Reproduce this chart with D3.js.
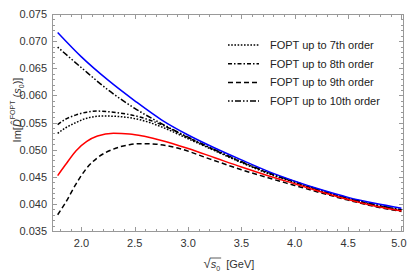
<!DOCTYPE html>
<html>
<head>
<meta charset="utf-8">
<script src="https://cdn.jsdelivr.net/npm/d3@7/dist/d3.min.js"></script>
<style>
  body { margin: 0; background: #fff; }
  text { font-family: 'Liberation Sans', Arial, sans-serif; }
</style>
</head>
<body>
<div id="chart"></div>
<script>
// curve values (sqrt(s0) in GeV -> Im[D])
let xBlue = [1.777, 2.0, 2.25, 2.5, 2.75, 3.0, 3.25, 3.5, 3.75, 4.0, 4.25, 4.5, 4.75, 5.0];
let yBlue = [0.0716, 0.0671, 0.0628, 0.0590, 0.0555, 0.0527, 0.0503, 0.0481, 0.0460, 0.0442, 0.0426, 0.0412, 0.0401, 0.0392];

let xRed = [1.777, 1.85, 1.95, 2.05, 2.15, 2.3, 2.45, 2.6, 2.75, 3.0, 3.25, 3.5, 3.75, 4.0, 4.25, 4.5, 4.75, 5.0];
let yRed = [0.0452, 0.0472, 0.0498, 0.0515, 0.0525, 0.0530, 0.0529, 0.0524, 0.0517, 0.0502, 0.0485, 0.0468, 0.0452, 0.0437, 0.0422, 0.0408, 0.0396, 0.0387];

let x7 = [1.777, 1.85, 1.95, 2.05, 2.2, 2.35, 2.55, 2.75, 3.0, 3.25, 3.5, 3.75, 4.0, 4.25, 4.5, 4.75, 5.0];
let y7 = [0.0530, 0.0540, 0.0550, 0.0558, 0.0562, 0.0561, 0.0555, 0.0542, 0.0520, 0.0498, 0.0476, 0.0456, 0.0439, 0.0423, 0.0409, 0.0397, 0.0388];

let x8 = [1.777, 1.85, 1.95, 2.05, 2.15, 2.3, 2.55, 2.75, 3.0, 3.25, 3.5, 3.75, 4.0, 4.25, 4.5, 4.75, 5.0];
let y8 = [0.0546, 0.0556, 0.0564, 0.0569, 0.0571, 0.0569, 0.0560, 0.0546, 0.0522, 0.0499, 0.0477, 0.0457, 0.0440, 0.0424, 0.0410, 0.0398, 0.0389];

let x9 = [1.777, 1.85, 1.95, 2.05, 2.15, 2.3, 2.45, 2.55, 2.7, 2.9, 3.2, 3.5, 3.75, 4.0, 4.25, 4.5, 4.75, 5.0];
let y9 = [0.0380, 0.0402, 0.0437, 0.0466, 0.0485, 0.0501, 0.0509, 0.0511, 0.0510, 0.0503, 0.0483, 0.0463, 0.0448, 0.0434, 0.0420, 0.0407, 0.0395, 0.0386];

let x10 = [1.777, 2.0, 2.25, 2.5, 2.75, 3.0, 3.25, 3.5, 3.75, 4.0, 4.25, 4.5, 4.75, 5.0];
let y10 = [0.0689, 0.0651, 0.0610, 0.0576, 0.0548, 0.0523, 0.0500, 0.0478, 0.0458, 0.0441, 0.0425, 0.0411, 0.0399, 0.0389];

let legendLabels = ['FOPT up to 7th order', 'FOPT up to 8th order', 'FOPT up to 9th order', 'FOPT up to 10th order'];
let xTicks = [2.0, 2.5, 3.0, 3.5, 4.0, 4.5, 5.0];
let yTicks = [0.035, 0.040, 0.045, 0.050, 0.055, 0.060, 0.065, 0.070, 0.075];

let width = 407, height = 277;
let margin = {top: 14, right: 3, bottom: 46, left: 52};
let axisColor = '#999';
let labelColor = '#333';

let svg = d3.select('#chart').append('svg')
  .attr('width', width)
  .attr('height', height);

let xScale = d3.scaleLinear().domain([1.724, 5.024]).range([margin.left, width - margin.right]);
let yScale = d3.scaleLinear().domain([0.035, 0.075]).range([height - margin.bottom, margin.top]);

let x0 = margin.left, x1 = width - margin.right;
let y0 = height - margin.bottom, y1 = margin.top;

// frame with mirrored ticks, Mathematica style
let xMinor = d3.range(18, 51).map(d => d / 10).filter(d => !xTicks.some(t => Math.abs(t - d) < 1e-9));
let yMinor = d3.range(35, 76).map(d => d / 1000).filter(d => !yTicks.some(t => Math.abs(t - d) < 1e-9));

let frame = svg.append('g').attr('stroke', axisColor).attr('stroke-width', 1).attr('fill', 'none');
frame.append('rect')
  .attr('x', x0 + 0.5).attr('y', y1 + 0.5)
  .attr('width', x1 - x0 - 1).attr('height', y0 - y1);

function tickX(vals, len) {
  vals.forEach(v => {
    let px = Math.round(xScale(v)) + 0.5;
    frame.append('line').attr('x1', px).attr('x2', px).attr('y1', y0 + 0.5).attr('y2', y0 + 0.5 - len);
    frame.append('line').attr('x1', px).attr('x2', px).attr('y1', y1 + 0.5).attr('y2', y1 + 0.5 + len);
  });
}
function tickY(vals, len) {
  vals.forEach(v => {
    let py = Math.round(yScale(v)) + 0.5;
    frame.append('line').attr('x1', x0 + 0.5).attr('x2', x0 + 0.5 + len).attr('y1', py).attr('y2', py);
    frame.append('line').attr('x1', x1 - 0.5).attr('x2', x1 - 0.5 - len).attr('y1', py).attr('y2', py);
  });
}
tickX(xTicks, 4.5);
tickX(xMinor, 2.5);
tickY(yTicks, 4.5);
tickY(yMinor, 2.5);

svg.append('g').selectAll('text').data(xTicks).enter().append('text')
  .attr('x', d => d === 5.0 ? width - 0.5 : xScale(d))
  .attr('y', y0 + 16)
  .attr('text-anchor', d => d === 5.0 ? 'end' : 'middle')
  .attr('font-size', 11)
  .attr('fill', labelColor)
  .text(d => d3.format('.1f')(d));

svg.append('g').selectAll('text').data(yTicks).enter().append('text')
  .attr('x', x0 - 5)
  .attr('y', d => yScale(d) + 4)
  .attr('text-anchor', 'end')
  .attr('font-size', 11)
  .attr('fill', labelColor)
  .text(d => d3.format('.3f')(d));

// curves
let line = d3.line()
  .x(d => xScale(d[0]))
  .y(d => yScale(d[1]))
  .curve(d3.curveMonotoneX);

let series = [
  {xs: xBlue, ys: yBlue, color: '#0000ff', dash: null},
  {xs: xRed, ys: yRed, color: '#ff0000', dash: null},
  {xs: x7, ys: y7, color: '#000', dash: '1.6,1.6'},
  {xs: x8, ys: y8, color: '#000', dash: '4,2,1.5,2'},
  {xs: x9, ys: y9, color: '#000', dash: '5,3'},
  {xs: x10, ys: y10, color: '#000', dash: '1.5,2,1.5,2,6,2'}
];

let plot = svg.append('g');
series.slice().reverse().forEach(s => {
  plot.append('path')
    .datum(d3.zip(s.xs, s.ys))
    .attr('d', line)
    .attr('fill', 'none')
    .attr('stroke', s.color)
    .attr('stroke-width', 1.5)
    .attr('stroke-dasharray', s.dash);
});

// legend
let legend = svg.append('g');
legendLabels.forEach((lab, i) => {
  let ly = 45 + i * 18.7;
  legend.append('line')
    .attr('x1', 228).attr('x2', 259)
    .attr('y1', ly).attr('y2', ly)
    .attr('stroke', '#000')
    .attr('stroke-width', 1.5)
    .attr('stroke-dasharray', series[i + 2].dash);
  legend.append('text')
    .attr('x', 270).attr('y', ly + 4)
    .attr('font-size', 11)
    .attr('fill', '#222')
    .text(lab);
});

// y axis title
let yTitle = svg.append('text')
  .attr('transform', 'translate(21,' + 110 + ') rotate(-90)')
  .attr('text-anchor', 'middle')
  .attr('font-size', 11)
  .attr('fill', labelColor);
yTitle.append('tspan').text('Im[');
yTitle.append('tspan').attr('font-style', 'italic').text('D\u0302');
yTitle.append('tspan').attr('font-size', 7).attr('dy', -6).text('FOPT');
yTitle.append('tspan').attr('dy', 6).text('\u00A0(');
yTitle.append('tspan').attr('font-style', 'italic').text('s');
yTitle.append('tspan').attr('font-size', 7).attr('dy', 3).text('0');
yTitle.append('tspan').attr('dy', -3).text(')]');

// x axis title
let xTitle = svg.append('text')
  .attr('x', 229).attr('y', 268)
  .attr('text-anchor', 'middle')
  .attr('font-size', 11)
  .attr('fill', labelColor);
xTitle.append('tspan').attr('font-size', 13).text('\u221A');
xTitle.append('tspan').attr('font-style', 'italic').text('s');
xTitle.append('tspan').attr('font-size', 7).attr('dy', 3).text('0');
xTitle.append('tspan').attr('dy', -3).text('\u00A0\u00A0[GeV]');

let sqrtBox = xTitle.node().getBBox();
let startX = xTitle.node().getStartPositionOfChar(1).x - 0.5;
let endX = xTitle.node().getEndPositionOfChar(2).x + 1;
svg.append('line')
  .attr('x1', startX).attr('x2', endX)
  .attr('y1', sqrtBox.y + 2).attr('y2', sqrtBox.y + 2)
  .attr('stroke', labelColor)
  .attr('stroke-width', 0.8);
</script>
</body>
</html>
